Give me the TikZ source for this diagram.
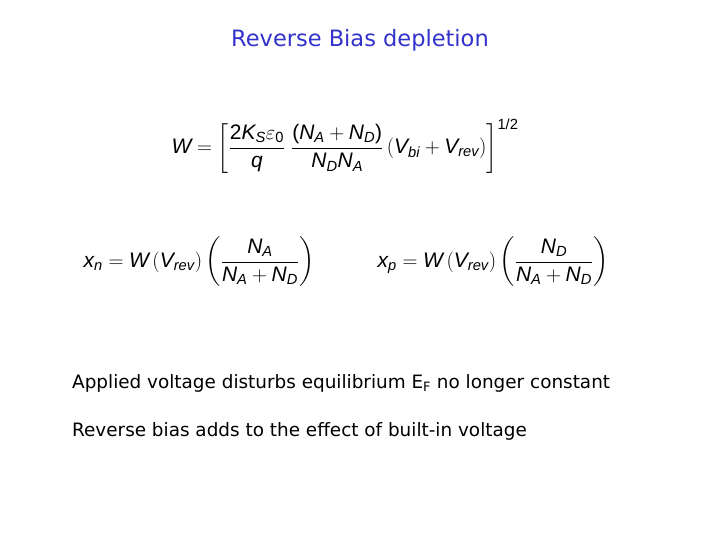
\documentclass[tikz,border=0pt]{standalone}
\usepackage{amsmath}
\usepackage{fontspec}
\setmainfont{Liberation Sans}
\newfontfamily\bodyfont{DejaVu Sans}
\definecolor{titleblue}{RGB}{51,51,204}
\newcommand\vi[1]{\text{\itshape #1}}
\tikzset{txt/.style={anchor=west,inner sep=0pt,font=\bodyfont\fontsize{18.4}{22}\selectfont},
eq/.style={inner sep=0pt,font=\fontsize{21}{25}\selectfont}}
\begin{document}
\begin{tikzpicture}[x=1pt,y=-1pt]
\useasboundingbox[fill=white] (0,0) rectangle (720,540);
\node[inner sep=0pt,text=titleblue,font=\bodyfont\fontsize{22.5}{26}\selectfont] (title) at (360,40) {Reverse Bias depletion};
\node[eq] (w) at (345,146) {$\vi{W}=\left[\dfrac{\text{2}\vi{K}_{\vi{S}}\varepsilon_{\text{0}}}{\vi{q}}\;\dfrac{\text{(}\vi{N}_{\vi{A}}+\vi{N}_{\vi{D}}\text{)}}{\vi{N}_{\vi{D}}\vi{N}_{\vi{A}}}\left(\vi{V}_{\vi{bi}}+\vi{V}_{\vi{rev}}\right)\right]^{\text{1/2}}$};
\node[eq] (xn) at (199,262) {$\vi{x}_{\vi{n}}=\vi{W}\left(\vi{V}_{\vi{rev}}\right)\left(\dfrac{\vi{N}_{\vi{A}}}{\vi{N}_{\vi{A}}+\vi{N}_{\vi{D}}}\right)$};
\node[eq] (xp) at (493,262) {$\vi{x}_{\vi{p}}=\vi{W}\left(\vi{V}_{\vi{rev}}\right)\left(\dfrac{\vi{N}_{\vi{D}}}{\vi{N}_{\vi{A}}+\vi{N}_{\vi{D}}}\right)$};
\node[txt] (l1) at (72,383) {Applied voltage disturbs equilibrium E\textsubscript{F} no longer constant};
\node[txt] (l2) at (72,431) {Reverse bias adds to the effect of built-in voltage};
\end{tikzpicture}
\end{document}
